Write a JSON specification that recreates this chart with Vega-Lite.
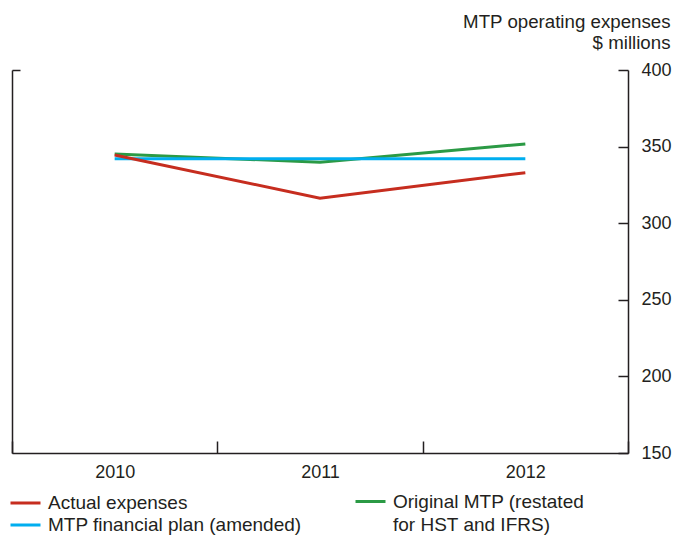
{
  "$schema": "https://vega.github.io/schema/vega-lite/v6.json",
  "width": 616,
  "height": 383,
  "autosize": "none",
  "padding": {"left": 12, "top": 70, "right": 47, "bottom": 85},
  "background": "white",
  "config": {
    "view": {"stroke": null},
    "font": "Liberation Sans",
    "style": {"guide-label": {"lineHeight": 23}},
    "axis": {
      "grid": false,
      "domainColor": "#231f20",
      "tickColor": "#231f20",
      "labelColor": "#231f20",
      "titleColor": "#231f20",
      "labelFontSize": 18,
      "domainWidth": 1.5,
      "tickWidth": 1.5
    },
    "legend": {"labelColor": "#231f20", "labelFontSize": 19, "labelOffset": 6}
  },
  "data": {
    "values": [
      {"series": "Original MTP (restated for HST and IFRS)", "year": "2010", "value": 345.2},
      {"series": "Original MTP (restated for HST and IFRS)", "year": "2011", "value": 339.8},
      {"series": "Original MTP (restated for HST and IFRS)", "year": "2012", "value": 351.7},
      {"series": "MTP financial plan (amended)", "year": "2010", "value": 342},
      {"series": "MTP financial plan (amended)", "year": "2011", "value": 342},
      {"series": "MTP financial plan (amended)", "year": "2012", "value": 342},
      {"series": "Actual expenses", "year": "2010", "value": 344.5},
      {"series": "Actual expenses", "year": "2011", "value": 316.3},
      {"series": "Actual expenses", "year": "2012", "value": 333}
    ]
  },
  "layer": [
    {
      "transform": [{"filter": "datum.series == 'Original MTP (restated for HST and IFRS)'"}],
      "mark": {"type": "line", "strokeWidth": 3},
      "encoding": {
        "x": {
          "field": "year",
          "type": "ordinal",
          "bandPosition": 0.5,
          "scale": {"type": "band", "paddingInner": 0, "paddingOuter": 0},
          "axis": {
            "title": null,
            "labelAngle": 0,
            "tickBand": "extent",
            "tickSize": -12,
            "labelPadding": 22
          }
        },
        "y": {
          "field": "value",
          "type": "quantitative",
          "scale": {"domain": [150, 400], "nice": false, "zero": false},
          "axis": {
            "orient": "right",
            "values": [150, 200, 250, 300, 350, 400],
            "tickSize": -10,
            "labelPadding": 23,
            "title": ["MTP operating expenses", "$ millions"],
            "titleAngle": 0,
            "titleAlign": "right",
            "titleBaseline": "alphabetic",
            "titleFontWeight": "normal",
            "titleFontSize": 18.7,
            "titleLineHeight": 21,
            "titleX": 42,
            "titleY": -43
          }
        },
        "stroke": {
          "field": "series",
          "type": "nominal",
          "scale": {"domain": ["Original MTP (restated for HST and IFRS)"], "range": ["#2b9a45"]},
          "legend": {
            "orient": "none",
            "legendX": 342,
            "legendY": 415,
            "title": null,
            "symbolType": "stroke",
            "symbolStrokeWidth": 3,
            "symbolSize": 900,
            "labelLimit": 400,
            "labelBaseline": "middle",
            "labelExpr": "['Original MTP (restated', 'for HST and IFRS)']"
          }
        }
      }
    },
    {
      "transform": [{"filter": "datum.series != 'Original MTP (restated for HST and IFRS)'"}],
      "mark": {"type": "line", "strokeWidth": 3},
      "encoding": {
        "x": {"field": "year", "type": "ordinal", "bandPosition": 0.5},
        "y": {
          "field": "value",
          "type": "quantitative",
          "axis": {"orient": "left", "values": [400], "tickSize": -8, "labels": false, "title": null}
        },
        "color": {
          "field": "series",
          "type": "nominal",
          "sort": ["Actual expenses", "MTP financial plan (amended)"],
          "scale": {
            "domain": ["Actual expenses", "MTP financial plan (amended)"],
            "range": ["#c62d1f", "#00aeef"]
          },
          "legend": {
            "orient": "none",
            "legendX": -3,
            "legendY": 423,
            "title": null,
            "clipHeight": 20,
            "rowPadding": 2,
            "symbolType": "stroke",
            "symbolStrokeWidth": 3,
            "symbolSize": 900,
            "labelLimit": 400
          }
        }
      }
    }
  ],
  "resolve": {"axis": {"y": "independent"}}
}
